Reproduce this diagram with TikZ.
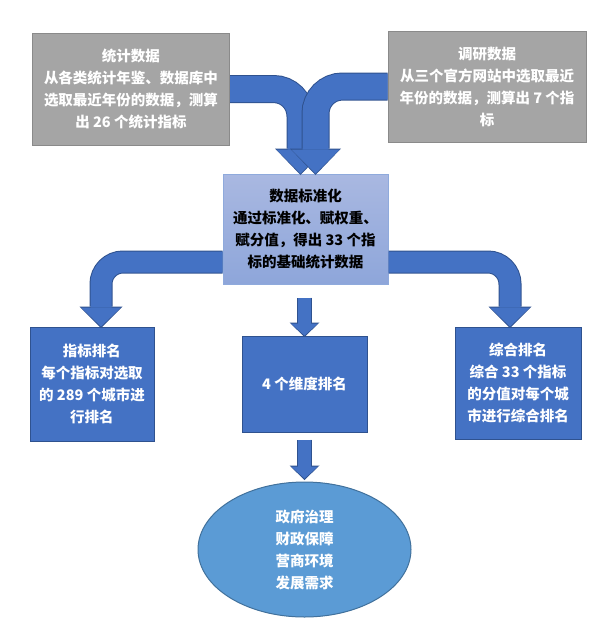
\documentclass[tikz,border=0pt]{standalone}
\usepackage{fontspec}
\setmainfont{Noto Sans CJK SC}
\usetikzlibrary{arrows.meta,shapes.geometric}
\definecolor{srcgray}{HTML}{A5A5A5}
\definecolor{srcline}{HTML}{8A8A8A}
\definecolor{ablue}{HTML}{4472C4}
\definecolor{adark}{HTML}{2F528F}
\definecolor{stdtop}{HTML}{A9B8E1}
\definecolor{stdbot}{HTML}{8EA6DA}
\definecolor{stdline}{HTML}{8FAADC}
\definecolor{goalfill}{HTML}{5B9BD5}
\definecolor{goalline}{HTML}{41719C}
\begin{document}
\begin{tikzpicture}[x=1pt, y=-1pt,
  every node/.style={font=\fontsize{14.5}{22}\selectfont\bfseries, align=center, inner sep=0pt},
  srcbox/.style={rectangle, draw=srcline, fill=srcgray, text=white, line width=1pt},
  stdbox/.style={rectangle, draw=stdline, top color=stdtop, bottom color=stdbot, text=black, line width=1pt},
  rankbox/.style={rectangle, draw=adark, fill=ablue, text=white, line width=1pt},
  goalnode/.style={ellipse, draw=goalline, fill=goalfill, text=white, line width=1pt},
  bigarrow/.style={draw=ablue, line width=26pt, rounded corners=27pt,
    -{Triangle[width=48pt,length=24pt,line width=0pt]},
    preaction={draw=adark, line width=28pt, shorten >=-1.5pt,
      -{Triangle[width=51pt,length=26.5pt,line width=0pt]}}},
  midarrow/.style={draw=ablue, line width=21pt, rounded corners=22pt,
    -{Triangle[width=40pt,length=19pt,line width=0pt]},
    preaction={draw=adark, line width=23pt, shorten >=-1.5pt,
      -{Triangle[width=43pt,length=21.5pt,line width=0pt]}}},
  smallarrow/.style={draw=ablue, line width=13pt,
    -{Triangle[width=27pt,length=12pt,line width=0pt]},
    preaction={draw=adark, line width=15pt, shorten >=-1.5pt,
      -{Triangle[width=30pt,length=14.5pt,line width=0pt]}}},
]
\useasboundingbox (0,0) rectangle (600,633);
% Source boxes
\node[srcbox, minimum width=197pt, minimum height=112pt] (stat) at (131,89)
  {统计数据\\从各类统计年鉴、数据库中\\选取最近年份的数据，测算\\出 26 个统计指标};
\node[srcbox, minimum width=198pt, minimum height=111pt] (res) at (487,86.5)
  {调研数据\\从三个官方网站中选取最近\\年份的数据，测算出 7 个指\\标};
% Standardisation
\node[stdbox, minimum width=165pt, minimum height=110pt] (std) at (305.5,229)
  {数据标准化\\通过标准化、赋权重、\\赋分值，得出 33 个指\\标的基础统计数据};
% Rankings
\node[rankbox, minimum width=124pt, minimum height=114pt] (rank1) at (92,384)
  {指标排名\\每个指标对选取\\的 289 个城市进\\行排名};
\node[rankbox, minimum width=125pt, minimum height=96pt] (dim) at (304.5,384)
  {4 个维度排名};
\node[rankbox, minimum width=126pt, minimum height=112pt] (rank3) at (518,383)
  {综合排名\\综合 33 个指标\\的分值对每个城\\市进行综合排名};
% Dimensions
\node[goalnode, minimum width=213pt, minimum height=135pt] (goal) at (304.5,549.5)
  {政府治理\\财政保障\\营商环境\\发展需求};
% Arrows
\draw[bigarrow] (stat.east) -| ([xshift=-5pt]std.north);
\draw[bigarrow] (res.west) -| ([xshift=10pt]std.north);
\draw[midarrow] ([yshift=-33pt]std.west) -| ([xshift=9pt]rank1.north);
\draw[midarrow] ([yshift=-33pt]std.east) -| ([xshift=-8pt]rank3.north);
\draw[smallarrow, shorten <=13pt] (std.south -| dim.north) -- (dim.north);
\draw[smallarrow, shorten <=7pt] (dim.south) -- ([yshift=3pt]goal.north);
\end{tikzpicture}
\end{document}
